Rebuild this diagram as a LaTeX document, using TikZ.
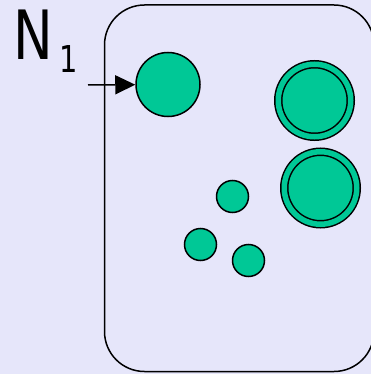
\documentclass[tikz,border=0pt]{standalone}
\usepackage{fontspec}
\setmainfont{DejaVu Sans}
\usetikzlibrary{arrows.meta}
\definecolor{bg}{RGB}{230,230,250}
\definecolor{grn}{RGB}{0,200,150}
\begin{document}
\begin{tikzpicture}[x=1pt,y=1pt,
  state/.style={circle, draw=black, fill=grn, line width=1.5pt, inner sep=0pt},
  bigstate/.style={state, minimum size=64pt},
  smallstate/.style={state, minimum size=32pt},
  finalstate/.style={state, minimum size=72.5pt, double=grn, double distance=5.5pt},
  frame/.style={draw=black, line width=1.5pt, rounded corners=40pt}]
\fill[bg] (0,0) rectangle (371,-374);
\useasboundingbox (0,0) rectangle (371,-374);
\draw[frame] (104.5,-5) rectangle (374,-371.5);
\node[anchor=base west, inner sep=0pt, xscale=0.78] (lab) at (13,-60)
  {\fontsize{68}{68}\selectfont N\hspace{8pt}\raisebox{-13pt}{\fontsize{37}{37}\selectfont 1}};
\node[bigstate] (q0) at (168,-84.5) {};
\node[finalstate] (f1) at (314.5,-100.5) {};
\node[finalstate] (f2) at (320.5,-188) {};
\node[smallstate] (q1) at (232.5,-196.5) {};
\node[smallstate] (q2) at (200.5,-244.5) {};
\node[smallstate] (q3) at (248.5,-260.5) {};
\coordinate (in) at (88,-85);
\draw[line width=1.5pt, -{Triangle[length=20pt,width=19pt]}] (in) -- (q0);
\end{tikzpicture}
\end{document}
